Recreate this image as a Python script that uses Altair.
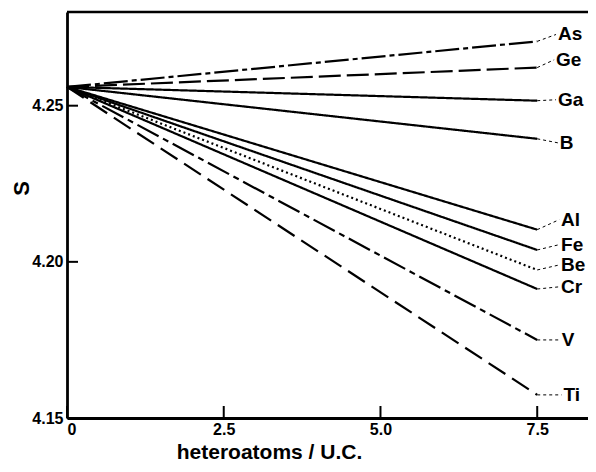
import altair as alt
import pandas as pd

# ---- data ----
names = ["As", "Ge", "Ga", "B", "Al", "Fe", "Be", "Cr", "V", "Ti"]
start_value = 4.256
x_start = 0.0
x_end = 7.5
end_values = [4.2706, 4.2622, 4.2516, 4.2394, 4.2103, 4.2038, 4.1974, 4.1913, 4.1750, 4.1574]
label_y = [4.2728, 4.2647, 4.2519, 4.2381, 4.2135, 4.2055, 4.1990, 4.1920, 4.1750, 4.1574]
label_x = [7.83, 7.80, 7.83, 7.86, 7.88, 7.88, 7.88, 7.88, 7.89, 7.92]
x_ticks = [0, 2.5, 5.0, 7.5]
y_ticks = [4.15, 4.20, 4.25]

# ---- styles ----
dash_styles = {
    "As": [24, 4, 5, 4],
    "Ge": [22, 6],
    "Ga": [1, 0],
    "B": [1, 0],
    "Al": [1, 0],
    "Fe": [1, 0],
    "Be": [2, 3],
    "Cr": [1, 0],
    "V": [24, 5, 6, 5],
    "Ti": [20, 8],
}

W, H = 521, 406
FONT = "Liberation Sans"

df = pd.DataFrame({
    "name": names,
    "x0": [x_start] * len(names),
    "x1": [x_end] * len(names),
    "y0": [start_value] * len(names),
    "y1": end_values,
    "lx": label_x,
    "ly": label_y,
})
df["lx_line"] = df["lx"] - 0.03

xscale = alt.Scale(domain=[0, 8.31], nice=False, zero=False)
yscale = alt.Scale(domain=[4.15, 4.28], nice=False, zero=False)

base = alt.Chart(df)

lines = base.mark_rule(strokeWidth=2.2, color="black").encode(
    x=alt.X("x0:Q", scale=xscale,
            axis=alt.Axis(values=x_ticks, ticks=False, grid=False,
                          labelExpr="datum.value == 0 ? '0' : format(datum.value, '.1f')",
                          labelFontSize=16, labelPadding=3,
                          title="heteroatoms / U.C.", titleX=202, titleY=40,
                          titleFontSize=21,
                          titleAnchor="middle", titleAlign="center",
                          titleBaseline="alphabetic")),
    x2="x1:Q",
    y=alt.Y("y0:Q", scale=yscale,
            axis=alt.Axis(values=y_ticks, ticks=False, grid=False, format=".2f",
                          labelFontSize=16, labelPadding=4,
                          title="S", titleAngle=270, titleX=-46, titleY=176,
                          titleFontSize=22,
                          titleAlign="center", titleBaseline="middle")),
    y2="y1:Q",
    strokeDash=alt.StrokeDash("name:N",
                              scale=alt.Scale(domain=names, range=[dash_styles[n] for n in names]),
                              legend=None),
)

leaders = base.mark_rule(strokeWidth=1, color="black", strokeDash=[3, 3]).encode(
    x=alt.X("x1:Q", scale=xscale), x2="lx_line:Q",
    y=alt.Y("y1:Q", scale=yscale), y2="ly:Q",
)

labels = base.mark_text(align="left", baseline="middle", font=FONT, fontWeight="bold",
                        fontSize=19, color="black").encode(
    x=alt.X("lx:Q", scale=xscale),
    y=alt.Y("ly:Q", scale=yscale),
    text="name:N",
)

xt = alt.Chart(pd.DataFrame({"v": x_ticks})).mark_rule(color="black", strokeWidth=2).encode(
    x=alt.X("v:Q", scale=xscale), y=alt.value(H), y2=alt.value(H - 12))
yt = alt.Chart(pd.DataFrame({"v": y_ticks})).mark_rule(color="black", strokeWidth=2).encode(
    y=alt.Y("v:Q", scale=yscale), x=alt.value(0), x2=alt.value(11))
top = alt.Chart(pd.DataFrame({"a": [0]})).mark_rule(color="black", strokeWidth=2.5).encode(
    x=alt.value(0), x2=alt.value(W), y=alt.value(0))

chart = alt.layer(lines, leaders, labels, xt, yt, top).properties(
    width=W, height=H, autosize="none",
    padding={"left": 59, "top": 4, "right": 0, "bottom": 46},
).configure_view(stroke=None).configure_axis(
    domainColor="black", domainWidth=2.8, labelColor="black", titleColor="black",
    labelFont=FONT, titleFont=FONT, labelFontWeight="bold", titleFontWeight="bold",
)

chart.save("out.html", embed_options={"renderer": "svg", "actions": False})
